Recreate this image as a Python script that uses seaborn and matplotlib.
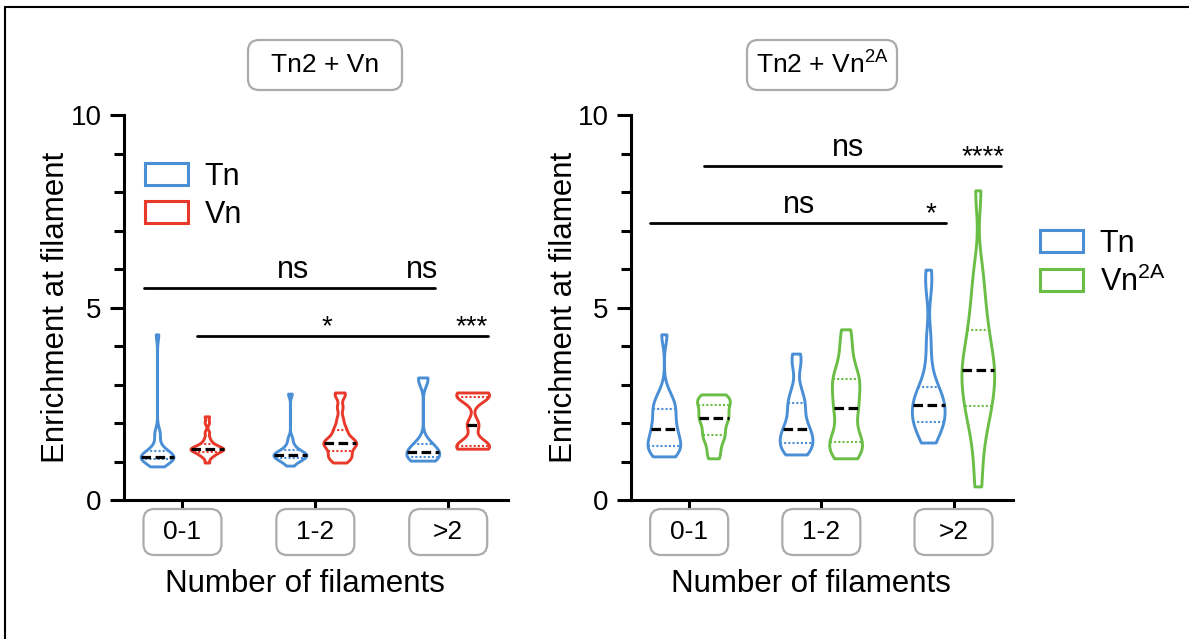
import numpy as np
import pandas as pd
import matplotlib
matplotlib.use("Agg")
import matplotlib.pyplot as plt
import seaborn as sns
from matplotlib.patches import FancyBboxPatch, Patch
from matplotlib.lines import Line2D
from matplotlib.transforms import IdentityTransform
from matplotlib.ticker import MultipleLocator

groups = ["0-1", "1-2", ">2"]

# Tn2 + Vn panel
tn_a_01 = [0.86, 0.95, 1.0, 1.02, 1.05, 1.07, 1.08, 1.1, 1.1, 1.12, 1.13, 1.15, 1.18, 1.2, 1.25, 1.3, 1.45, 1.7, 1.75, 4.29]
tn_a_12 = [0.88, 0.98, 1.02, 1.05, 1.08, 1.1, 1.12, 1.15, 1.17, 1.18, 1.2, 1.22, 1.25, 1.3, 1.35, 1.45, 1.6, 2.75]
tn_a_gt2 = [1.01, 1.05, 1.1, 1.15, 1.2, 1.25, 1.3, 1.4, 1.5, 3.1, 3.17]
vn_a_01 = [0.96, 1.1, 1.15, 1.2, 1.22, 1.25, 1.28, 1.3, 1.3, 1.32, 1.33, 1.35, 1.38, 1.4, 1.45, 1.5, 1.6, 1.75, 2.0, 2.16]
vn_a_12 = [0.96, 1.05, 1.1, 1.15, 1.2, 1.3, 1.35, 1.4, 1.45, 1.48, 1.5, 1.55, 1.6, 1.7, 1.8, 1.9, 2.1, 2.4, 2.7, 2.78]
vn_a_gt2 = [1.32, 1.38, 1.45, 1.95, 2.65, 2.72, 2.78]

# Tn2 + Vn2A panel
tn_b_01 = [1.12, 1.2, 1.3, 1.38, 1.42, 1.5, 1.65, 1.8, 1.88, 2.0, 2.2, 2.35, 2.45, 2.55, 2.8, 4.29]
tn_b_12 = [1.17, 1.25, 1.35, 1.42, 1.5, 1.6, 1.75, 1.82, 1.86, 2.1, 2.3, 2.5, 2.6, 2.9, 3.5, 3.79]
tn_b_gt2 = [1.48, 1.7, 1.85, 1.95, 2.0, 2.1, 2.2, 2.35, 2.45, 2.5, 2.6, 2.75, 2.85, 2.95, 3.5, 4.2, 5.5, 5.97]
vn_b_01 = [1.07, 1.3, 1.55, 1.65, 1.8, 1.95, 2.1, 2.15, 2.25, 2.4, 2.5, 2.6, 2.65, 2.73]
vn_b_12 = [1.07, 1.2, 1.35, 1.45, 1.5, 1.7, 2.0, 2.3, 2.4, 2.6, 2.85, 3.0, 3.15, 3.3, 3.6, 4.0, 4.42]
vn_b_gt2 = [0.34, 1.2, 1.8, 2.2, 2.4, 2.6, 2.9, 3.1, 3.3, 3.45, 3.6, 3.9, 4.2, 4.5, 4.9, 5.4, 6.0, 8.03]

# significance bars: (x start, x end, y) and labels: (x, y, text)
sig_a_lines = [(-0.29, 1.90, 5.5), (0.11, 2.30, 4.26)]
sig_a_labels = [(0.83, 5.76, "ns"), (1.80, 5.76, "ns"), (1.09, 4.30, "*"), (2.18, 4.30, "***")]
sig_b_lines = [(0.11, 2.36, 8.68), (-0.30, 1.94, 7.19)]
sig_b_labels = [(1.20, 8.94, "ns"), (2.22, 8.72, "****"), (0.83, 7.45, "ns"), (1.83, 7.23, "*")]

blue = "#4A8FD6"
red = "#E8392B"
green = "#6BBE45"
box_edge = "#ABABAB"


def make_frame(tn_lists, vn_lists, vn_name):
    rows = []
    for g, vals in zip(groups, tn_lists):
        rows += [(g, "Tn", v) for v in vals]
    for g, vals in zip(groups, vn_lists):
        rows += [(g, vn_name, v) for v in vals]
    return pd.DataFrame(rows, columns=["filaments", "protein", "enrichment"])


df_a = make_frame([tn_a_01, tn_a_12, tn_a_gt2], [vn_a_01, vn_a_12, vn_a_gt2], "Vn")
df_b = make_frame([tn_b_01, tn_b_12, tn_b_gt2], [vn_b_01, vn_b_12, vn_b_gt2], "Vn2A")

sns.set_theme(style="ticks")
plt.rcParams["font.family"] = ["Liberation Sans", "DejaVu Sans"]
plt.rcParams["mathtext.default"] = "regular"
for key in ["text.color", "axes.labelcolor", "xtick.color", "ytick.color"]:
    plt.rcParams[key] = "black"

W, H = 1189, 639
fig = plt.figure(figsize=(W / 100, H / 100), dpi=100)
ax1 = fig.add_axes([124 / W, 1 - 500 / H, 384 / W, 385 / H])
ax2 = fig.add_axes([631 / W, 1 - 500 / H, 382 / W, 385 / H])


def rounded_box(xc, yc, w, h, text, size):
    # xc, yc in pixels from the top-left corner
    patch = FancyBboxPatch((xc - w / 2, H - yc - h / 2), w, h,
                           boxstyle="round,pad=0,rounding_size=11",
                           transform=IdentityTransform(), fc="white",
                           ec=box_edge, lw=1.6, clip_on=False)
    fig.add_artist(patch)
    fig.text(xc / W, 1 - yc / H, text, ha="center", va="center",
             fontsize=size, color="black")


def add_inner_lines(ax, df, hue_order):
    for coll in ax.collections:
        paths = coll.get_paths()
        if not paths:
            continue
        verts = paths[0].vertices
        cx = (verts[:, 0].min() + verts[:, 0].max()) / 2
        cat = int(round(cx))
        hue = hue_order[0] if cx < cat else hue_order[1]
        vals = df[(df.filaments == groups[cat]) & (df.protein == hue)].enrichment.values
        right = verts[verts[:, 0] >= cx]
        right = right[np.argsort(right[:, 1])]
        q1, med, q3 = np.percentile(vals, [25, 50, 75])
        for q, is_med in [(q1, False), (q3, False), (med, True)]:
            hw = np.interp(q, right[:, 1], right[:, 0]) - cx
            if is_med:
                ax.plot([cx - hw, cx + hw], [q, q], color="black", lw=2.3,
                        dashes=(3, 1.4), solid_capstyle="butt")
            else:
                ax.plot([cx - hw, cx + hw], [q, q], color=coll.get_edgecolor()[0],
                        lw=1.5, dashes=(1, 1))


def style_panel(ax, df, hue_order, palette, lines, labels, bw):
    sns.violinplot(data=df, x="filaments", y="enrichment", hue="protein",
                   order=groups, hue_order=hue_order, palette=palette,
                   fill=False, inner=None, cut=0, density_norm="width",
                   width=0.75, gap=0.34, bw_adjust=bw, linewidth=2.1,
                   legend=False, ax=ax)
    add_inner_lines(ax, df, hue_order)
    for x0, x1, y in lines:
        ax.plot([x0, x1], [y, y], color="black", lw=2.0, clip_on=False)
    for x, y, t in labels:
        ax.text(x, y, t, ha="center", va="baseline", fontsize=22 if t == "ns" else 20,
                clip_on=False)
    ax.set_xlim(-0.44, 2.45)
    ax.set_ylim(0, 10)
    ax.set_yticks([0, 5, 10])
    ax.yaxis.set_minor_locator(MultipleLocator(1))
    ax.set_xticks([0, 1, 2])
    ax.set_xticklabels(["", "", ""])
    sns.despine(ax=ax)
    for s in ["left", "bottom"]:
        ax.spines[s].set_linewidth(2.2)
        ax.spines[s].set_color("black")
    ax.tick_params(axis="y", which="major", length=10, width=2.2, labelsize=20,
                   pad=6, color="black")
    ax.tick_params(axis="y", which="minor", length=7, width=2.2, color="black")
    ax.tick_params(axis="x", length=9, width=2.2, color="black")
    ax.set_ylabel("Enrichment at filament", fontsize=22.5)
    ax.yaxis.set_label_coords(-0.137, 0.5)
    ax.set_xlabel("Number of filaments", fontsize=22.5)
    ax.xaxis.set_label_coords(0.47, -0.18)


style_panel(ax1, df_a, ["Tn", "Vn"], [blue, red], sig_a_lines, sig_a_labels, 0.38)
style_panel(ax2, df_b, ["Tn", "Vn2A"], [blue, green], sig_b_lines, sig_b_labels, 0.55)

# legends
h1 = [Patch(fc="white", ec=blue, lw=2.2), Patch(fc="white", ec=red, lw=2.2)]
ax1.legend(h1, ["Tn", "Vn"], loc="upper left", bbox_to_anchor=(0.055, 0.878),
           frameon=False, fontsize=22, handlelength=1.4, handleheight=0.72,
           handletextpad=0.55, labelspacing=0.25, borderpad=0, borderaxespad=0)
h2 = [Patch(fc="white", ec=blue, lw=2.2), Patch(fc="white", ec=green, lw=2.2)]
ax2.legend(h2, ["Tn", "Vn$^{2A}$"], loc="upper left",
           bbox_to_anchor=(1040 / W, 1 - 229 / H), bbox_transform=fig.transFigure,
           frameon=False, fontsize=22, handlelength=1.4, handleheight=0.72,
           handletextpad=0.55, labelspacing=0.25, borderpad=0, borderaxespad=0)

fig.canvas.draw()

# boxed category labels under the ticks
for ax in [ax1, ax2]:
    for i, g in enumerate(groups):
        px = ax.transData.transform((i, 0))[0]
        rounded_box(px, 532, 78, 46, g, 19)

# boxed panel titles
rounded_box(325, 65, 154, 50, "Tn2 + Vn", 19)
rounded_box(822, 65, 150, 50, "Tn2 + Vn$^{2A}$", 19)

# frame lines on the left and top of the figure
fig.add_artist(Line2D([5 / W, 5 / W], [0, 1 - 7 / H], transform=fig.transFigure,
                      color="black", lw=1.5))
fig.add_artist(Line2D([5 / W, 1], [1 - 7 / H, 1 - 7 / H], transform=fig.transFigure,
                      color="black", lw=1.5))

fig.savefig("out.png", dpi=100)
